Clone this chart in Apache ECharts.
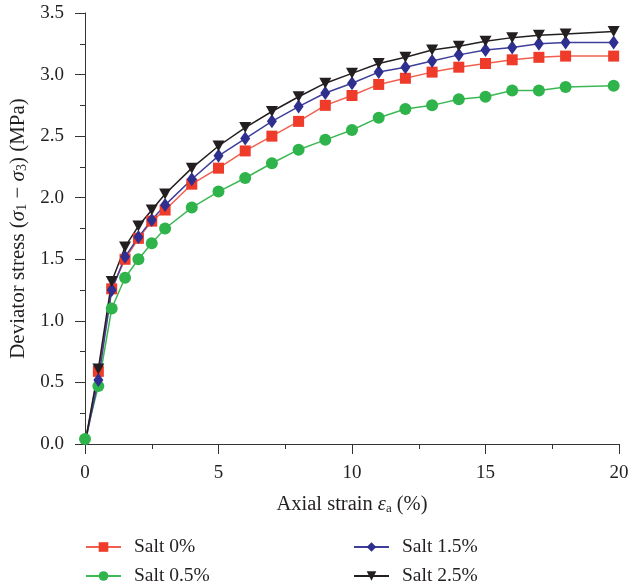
<!DOCTYPE html>
<html>
<head>
<meta charset="utf-8">
<script src="https://cdn.jsdelivr.net/npm/echarts@6/dist/echarts.min.js"></script>
<style>html,body{margin:0;padding:0;background:#fff}#c{width:631px;height:588px}</style>
</head>
<body>
<div id="c"></div>
<script>
var strain = [0, 0.5, 1, 1.5, 2, 2.5, 3, 4, 5, 6, 7, 8, 9, 10, 11, 12, 13, 14, 15, 16, 17, 18, 19.8];
var salt0 = [0, 0.59, 1.26, 1.50, 1.67, 1.81, 1.90, 2.11, 2.24, 2.38, 2.50, 2.62, 2.75, 2.83, 2.92, 2.97, 3.02, 3.06, 3.09, 3.12, 3.14, 3.15, 3.15];
var salt05 = [0.04, 0.47, 1.10, 1.35, 1.50, 1.63, 1.75, 1.92, 2.05, 2.16, 2.28, 2.39, 2.47, 2.55, 2.65, 2.72, 2.75, 2.80, 2.82, 2.87, 2.87, 2.90, 2.91];
var salt15 = [0, 0.52, 1.25, 1.52, 1.68, 1.82, 1.94, 2.15, 2.34, 2.48, 2.62, 2.74, 2.85, 2.93, 3.02, 3.06, 3.11, 3.16, 3.20, 3.22, 3.25, 3.26, 3.26];
var salt25 = [0, 0.61, 1.32, 1.60, 1.77, 1.90, 2.03, 2.24, 2.42, 2.57, 2.70, 2.82, 2.93, 3.01, 3.09, 3.14, 3.20, 3.23, 3.27, 3.30, 3.32, 3.33, 3.35];
var seriesNames = ['Salt 0%', 'Salt 0.5%', 'Salt 1.5%', 'Salt 2.5%'];

var FONT = '"Liberation Serif", "DejaVu Serif", serif';
var TXT = '#231f20';

function pts(vals, hideFirst) {
  return vals.map(function (v, i) {
    var d = { value: [strain[i], v] };
    if (hideFirst && i === 0) d.symbolSize = 0;
    return d;
  });
}

var chart = echarts.init(document.getElementById('c'), null, { renderer: 'canvas' });
function richFor(size) {
  return {
    i: { fontStyle: 'italic', fontFamily: FONT, fontSize: size, color: TXT },
    sub: { fontFamily: FONT, fontSize: Math.round(size * 0.65), lineHeight: 12, verticalAlign: 'bottom', color: TXT }
  };
}
var legendText = { fontFamily: FONT, fontSize: 19.5, color: TXT, lineHeight: 19, padding: [0, 0, 0, 8] };

chart.setOption({
  animation: false,
  backgroundColor: '#fff',
  grid: { left: 85, right: 12, top: 13, bottom: 144, outerBoundsMode: 'none' },
  legend: [
    { data: ['Salt 0%', 'Salt 0.5%'], orient: 'vertical', left: 85, top: 537, padding: 0, itemWidth: 35, itemHeight: 12, itemGap: 9, textStyle: legendText },
    { data: ['Salt 1.5%', 'Salt 2.5%'], orient: 'vertical', left: 353, top: 537, padding: 0, itemWidth: 35, itemHeight: 12, itemGap: 9, textStyle: legendText }
  ],
  xAxis: {
    type: 'value', min: 0, max: 20, interval: 5,
    name: 'Axial strain {i|ε}{sub|a} (%)', nameLocation: 'middle', nameGap: 50,
    nameTextStyle: { fontFamily: FONT, fontSize: 20.5, color: TXT, rich: richFor(20.5) },
    axisLine: { onZero: false, lineStyle: { color: '#333', width: 1 } },
    axisTick: { show: true, length: 10, lineStyle: { color: '#333' } },
    minorTick: { show: true, splitNumber: 2, length: 5, lineStyle: { color: '#333' } },
    splitLine: { show: false },
    axisLabel: { fontFamily: FONT, fontSize: 19, color: TXT, margin: 20 }
  },
  yAxis: {
    type: 'value', min: 0, max: 3.5, interval: 0.5,
    name: 'Deviator stress ({i|σ}{sub|1} − {i|σ}{sub|3}) (MPa)', nameLocation: 'middle', nameGap: 53,
    nameTextStyle: { fontFamily: FONT, fontSize: 21, color: TXT, rich: richFor(21) },
    axisLine: { show: true, onZero: false, lineStyle: { color: '#333', width: 1 } },
    axisTick: { show: true, length: 10, lineStyle: { color: '#333' } },
    minorTick: { show: true, splitNumber: 2, length: 5, lineStyle: { color: '#333' } },
    splitLine: { show: false },
    axisLabel: { fontFamily: FONT, fontSize: 19, color: TXT, margin: 21, formatter: function (v) { return v.toFixed(1); } }
  },
  series: [
    { name: seriesNames[0], type: 'line', data: pts(salt0, true), symbol: 'rect', symbolSize: 11,
      color: '#ef3b2a', lineStyle: { width: 1.5, color: '#f0604f' }, itemStyle: { color: '#ef3b2a' } },
    { name: seriesNames[1], type: 'line', data: pts(salt05, false), symbol: 'circle', symbolSize: 12,
      color: '#2fb34b', lineStyle: { width: 1.5, color: '#3cb854' }, itemStyle: { color: '#2fb34b' } },
    { name: seriesNames[2], type: 'line', data: pts(salt15, true), symbol: 'diamond', symbolSize: [10, 14],
      color: '#2e2f8f', lineStyle: { width: 1.5, color: '#3d3e9a' }, itemStyle: { color: '#2e2f8f' } },
    { name: seriesNames[3], type: 'line', data: pts(salt25, true), symbol: 'path://M0,0 L12,0 L6,11 Z', symbolSize: [12, 11],
      color: '#231f20', lineStyle: { width: 1.5, color: '#231f20' }, itemStyle: { color: '#231f20' } }
  ]
});
</script>
</body>
</html>
